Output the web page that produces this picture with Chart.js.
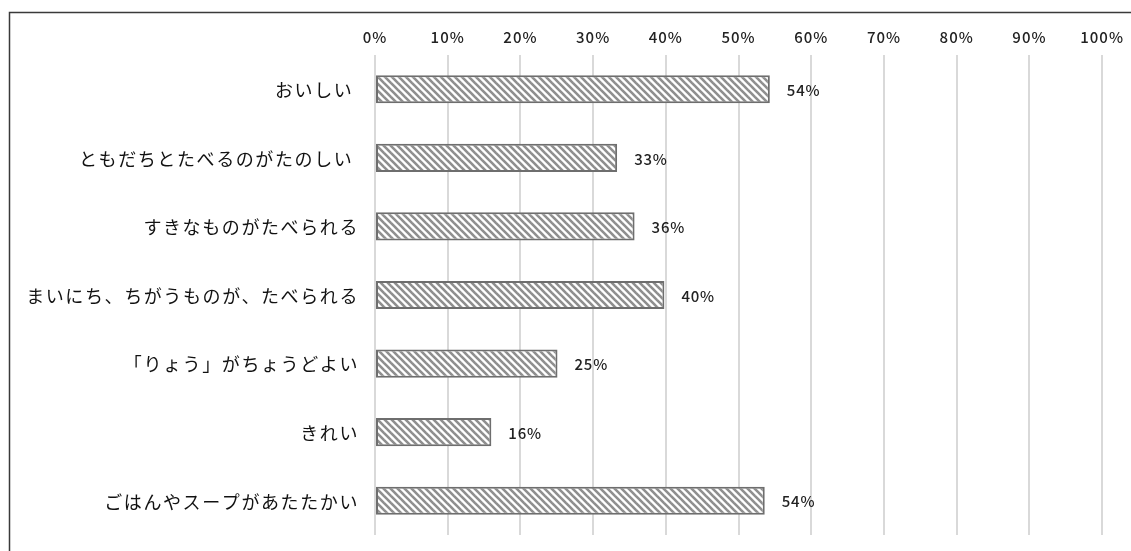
<!DOCTYPE html>
<html>
<head>
<meta charset="utf-8">
<script src="https://cdn.jsdelivr.net/npm/chart.js@4.4.0/dist/chart.umd.min.js"></script>
<style>
  html, body { margin: 0; padding: 0; background: #fff; }
  #wrap { position: relative; width: 1131px; height: 551px; }
</style>
</head>
<body>
<div id="wrap"><canvas id="chart" width="1131" height="551"></canvas></div>
<script>
// categories and values
const categories = [
  'おいしい ',
  'ともだちとたべるのがたのしい ',
  'すきなものがたべられる',
  'まいにち、ちがうものが、たべられる',
  '「りょう」がちょうどよい',
  'きれい',
  'ごはんやスープがあたたかい'
]
const values = [54.3, 33.3, 35.7, 39.8, 25.1, 16.0, 53.6]
const tickSteps = [0, 10, 20, 30, 40, 50, 60, 70, 80, 90, 100]

const fontFamily = '"Noto Sans CJK JP", "Noto Sans", sans-serif'

// diagonal hatch like the office fill pattern
var makeHatch = () => {
  const n = 7
  const c = document.createElement('canvas')
  c.width = n
  c.height = n
  const g = c.getContext('2d')
  g.fillStyle = '#ffffff'
  g.fillRect(0, 0, n, n)
  g.strokeStyle = '#8f8f8f'
  g.lineWidth = 2.6
  for (let k = -1; k <= 1; k++) {
    g.beginPath()
    g.moveTo(k * n - 1, -1)
    g.lineTo(k * n + n + 1, n + 1)
    g.stroke()
  }
  return g.createPattern(c, 'repeat')
}

// frame line on left and top, cut off by the window
const framePlugin = {
  id: 'frame',
  beforeDraw(chart) {
    const ctx = chart.ctx
    ctx.save()
    ctx.strokeStyle = '#3a3a3a'
    ctx.lineWidth = 1.5
    ctx.beginPath()
    ctx.moveTo(9.5, 560)
    ctx.lineTo(9.5, 12.5)
    ctx.lineTo(1140, 12.5)
    ctx.stroke()
    ctx.restore()
    // slightly wider letter spacing, like the original rendering
    ctx.letterSpacing = '1px'
  }
}

// category names, drawn at the y scale positions with wider spacing
const categoryLabels = {
  id: 'categoryLabels',
  afterDraw(chart) {
    const ctx = chart.ctx
    const y = chart.scales.y
    ctx.save()
    ctx.letterSpacing = '1.6px'
    ctx.font = '18px ' + fontFamily
    ctx.fillStyle = '#111'
    ctx.textAlign = 'right'
    ctx.textBaseline = 'middle'
    categories.forEach((name, i) => {
      ctx.fillText(name, chart.chartArea.left - 16, y.getPixelForValue(i) + 1)
    })
    ctx.restore()
  }
}

const valueLabels = {
  id: 'valueLabels',
  afterDatasetsDraw(chart) {
    const ctx = chart.ctx
    const meta = chart.getDatasetMeta(0)
    ctx.save()
    ctx.letterSpacing = '0.8px'
    ctx.font = '500 15px ' + fontFamily
    ctx.fillStyle = '#222'
    ctx.textAlign = 'left'
    ctx.textBaseline = 'middle'
    meta.data.forEach((bar, i) => {
      ctx.fillText(Math.round(values[i]) + '%', bar.x + 17, bar.y + 1)
    })
    ctx.restore()
  }
}

const ctx = document.getElementById('chart').getContext('2d')
const myChart = new Chart(ctx, {
  type: 'bar',
  data: {
    labels: categories,
    datasets: [{
      data: values,
      backgroundColor: makeHatch(),
      borderColor: '#6e6e6e',
      borderWidth: 2,
      borderSkipped: false,
      categoryPercentage: 1,
      barPercentage: 0.41
    }]
  },
  options: {
    indexAxis: 'y',
    responsive: false,
    animation: false,
    devicePixelRatio: 1,
    layout: { padding: { left: 0, right: 27, top: 0, bottom: 16 } },
    plugins: {
      legend: { display: false },
      tooltip: { enabled: false }
    },
    scales: {
      x: {
        position: 'top',
        min: 0,
        max: 100,
        afterBuildTicks: (s) => { s.ticks = tickSteps.map(v => ({ value: v })) },
        afterFit: (s) => { s.height = 55 },
        grid: { color: '#d9d9d9', lineWidth: 2, drawTicks: false },
        border: { display: false },
        ticks: {
          padding: 9,
          color: '#222',
          font: { family: fontFamily, size: 15, weight: '500' },
          callback: (v) => v + '%'
        }
      },
      y: {
        afterFit: (s) => { s.width = 375 },
        grid: { display: false, drawTicks: false },
        border: { display: false },
        ticks: { display: false }
      }
    }
  },
  plugins: [framePlugin, categoryLabels, valueLabels]
})
</script>
</body>
</html>
